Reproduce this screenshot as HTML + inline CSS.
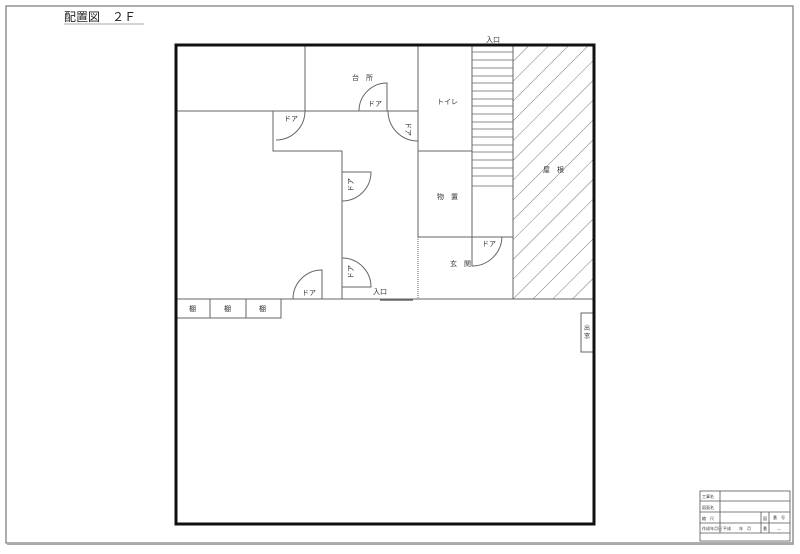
<!DOCTYPE html>
<html><head><meta charset="utf-8"><style>
html,body{margin:0;padding:0;background:#fff;width:800px;height:554px;overflow:hidden}
svg{display:block}
text{font-family:"Liberation Sans","Noto Sans CJK JP",sans-serif;fill:#333}
</style></head><body>
<svg width="800" height="554" viewBox="0 0 800 554" xmlns="http://www.w3.org/2000/svg">
<defs>
<pattern id="h" patternUnits="userSpaceOnUse" width="14" height="14" patternTransform="rotate(45)">
<line x1="0" y1="0" x2="0" y2="14" stroke="#555" stroke-width="0.8"/>
</pattern>
</defs>
<rect x="6" y="6" width="787" height="537" fill="none" stroke="#777" stroke-width="1.2"/>
<line x1="7" y1="544" x2="794" y2="544" stroke="#aaa" stroke-width="2"/>
<text x="64" y="21" font-size="12" style="fill:#222">配置図　２Ｆ</text>
<line x1="64" y1="24" x2="144" y2="24" stroke="#aaa" stroke-width="1"/>

<rect x="513" y="45" width="81" height="254" fill="url(#h)"/>
<g stroke="#666" stroke-width="0.8">
<line x1="472" y1="186" x2="513" y2="186"/>
<line x1="472" y1="52" x2="513" y2="52"/><line x1="472" y1="60" x2="513" y2="60"/>
<line x1="472" y1="68" x2="513" y2="68"/><line x1="472" y1="76" x2="513" y2="76"/>
<line x1="472" y1="83" x2="513" y2="83"/><line x1="472" y1="91" x2="513" y2="91"/>
<line x1="472" y1="99" x2="513" y2="99"/><line x1="472" y1="106" x2="513" y2="106"/>
<line x1="472" y1="114" x2="513" y2="114"/><line x1="472" y1="122" x2="513" y2="122"/>
<line x1="472" y1="129" x2="513" y2="129"/><line x1="472" y1="137" x2="513" y2="137"/>
<line x1="472" y1="145" x2="513" y2="145"/><line x1="472" y1="152" x2="513" y2="152"/>
<line x1="472" y1="160" x2="513" y2="160"/><line x1="472" y1="168" x2="513" y2="168"/>
<line x1="472" y1="176" x2="513" y2="176"/>
</g>
<g stroke="#666" stroke-width="1" fill="none">
<line x1="176" y1="111" x2="418" y2="111"/>
<line x1="305" y1="45" x2="305" y2="111"/>
<line x1="418" y1="45" x2="418" y2="237"/>
<line x1="418" y1="237" x2="418" y2="299" stroke-dasharray="1,1"/>
<polyline points="273,111 273,151 342,151 342,299"/>
<line x1="176" y1="299" x2="594" y2="299"/>
<line x1="472" y1="45" x2="472" y2="237"/>
<line x1="418" y1="151" x2="472" y2="151"/>
<line x1="418" y1="237" x2="513" y2="237"/>
<line x1="513" y1="45" x2="513" y2="299"/>
<rect x="176" y="299" width="105" height="19"/>
<line x1="210" y1="299" x2="210" y2="318"/><line x1="246" y1="299" x2="246" y2="318"/>
<rect x="581" y="313" width="12" height="39"/>
<path d="M359,111 A28,28 0 0 1 387,83 L387,111"/>
<path d="M276,140 A29,29 0 0 0 305,111"/>
<path d="M388,111 A30,30 0 0 0 418,141"/>
<path d="M342,172 L371,172 A29,29 0 0 1 342,201"/>
<path d="M342,258 A29,29 0 0 1 371,287 L342,287"/>
<path d="M293,299 A29,29 0 0 1 322,270 L322,299"/>
<path d="M472,237 L472,266 A30,30 0 0 0 502,237"/>
<line x1="380" y1="300" x2="413" y2="300" stroke-width="1.5"/>
</g>
<rect x="176" y="45" width="418" height="479" fill="none" stroke="#111" stroke-width="3"/>

<g font-size="7">
<text x="352" y="80">台　所</text>
<text x="368" y="106">ドア</text>
<text x="437" y="104">トイレ</text>
<text x="284" y="121">ドア</text>
<text x="437" y="199">物　置</text>
<text x="450" y="266">玄　関</text>
<text x="482" y="246">ドア</text>
<text x="486" y="42">入口</text>
<text x="543" y="172">屋　根</text>
<text x="302" y="295">ドア</text>
<text x="373" y="294">入口</text>
<text x="189" y="311">棚</text>
<text x="224" y="311">棚</text>
<text x="259" y="311">棚</text>
<text transform="translate(406,122) rotate(90)">ドア</text>
<text transform="translate(353,192) rotate(-90)">ドア</text>
<text transform="translate(353,279) rotate(-90)">ドア</text>
<text x="584" y="330" font-size="6">出</text>
<text x="584" y="338" font-size="6">窓</text>
</g>

<g stroke="#555" stroke-width="0.8" fill="none">
<rect x="700" y="491" width="90" height="50"/>
<line x1="700" y1="501" x2="790" y2="501"/>
<line x1="700" y1="512" x2="790" y2="512"/>
<line x1="700" y1="523" x2="790" y2="523"/>
<line x1="700" y1="533" x2="790" y2="533"/>
<line x1="720" y1="491" x2="720" y2="533"/>
<line x1="761" y1="512" x2="761" y2="533"/>
<line x1="769" y1="512" x2="769" y2="533"/>
</g>
<g font-size="4">
<text x="702" y="498">工事名</text>
<text x="702" y="509">図面名</text>
<text x="702" y="520">縮　尺</text>
<text x="702" y="530">作成年月日</text>
<text x="723" y="530">平成　　年　月</text>
<text x="763" y="520">図</text>
<text x="763" y="530">番</text>
<text x="773" y="519">番　号</text>
<text x="777" y="530">—</text>
</g>
</svg>
</body></html>
